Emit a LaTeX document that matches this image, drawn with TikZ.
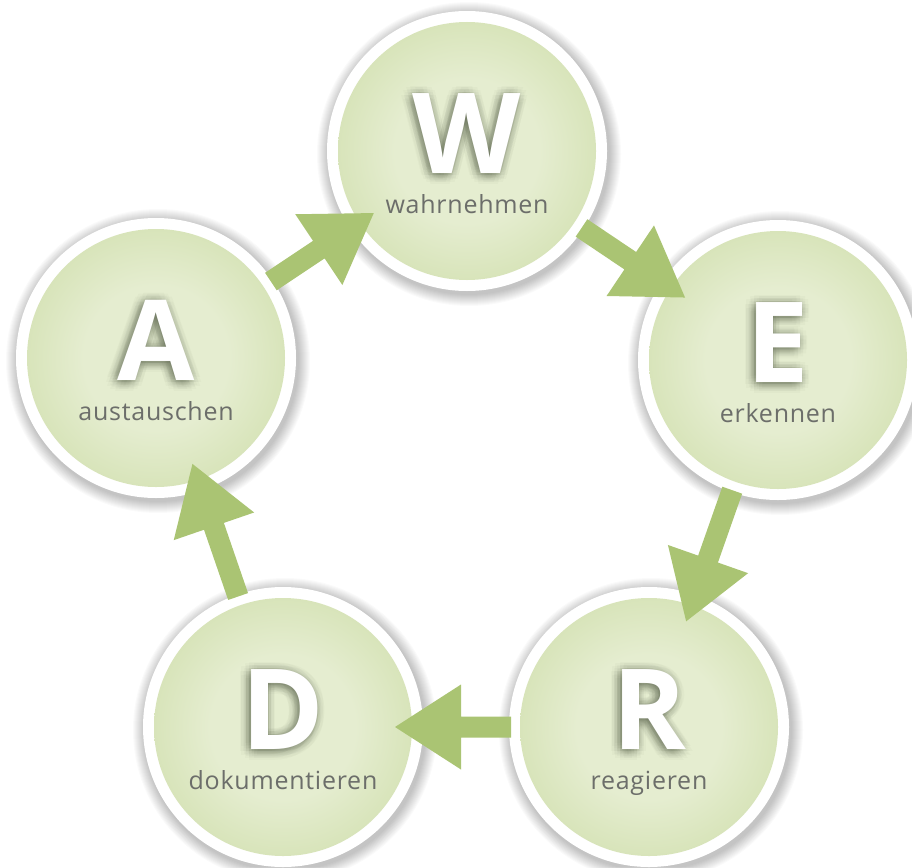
\documentclass[tikz,border=0pt]{standalone}
\usepackage{fontspec}
\setmainfont{Open Sans}
\newfontfamily\labelfont[LetterSpace=3]{Open Sans}
\usetikzlibrary{calc}
\definecolor{arrowgreen}{RGB}{170,196,115}
\definecolor{ballcenter}{RGB}{229,237,208}
\definecolor{ballmid}{RGB}{204,220,166}
\definecolor{balledge}{RGB}{176,200,126}
\definecolor{labelgray}{RGB}{108,110,106}
\definecolor{glowcol}{RGB}{40,50,30}
\pgfdeclareradialshading{greenball}{\pgfpoint{0bp}{0bp}}{color(0bp)=(ballcenter); color(14bp)=(ballcenter); color(35bp)=(ballmid); color(50bp)=(balledge); color(100bp)=(balledge)}
\tikzset{
  ballshade/.style={circle, minimum size=258pt, inner sep=0pt, shading=greenball},
  ring/.style={circle, fill=white, minimum size=280pt, inner sep=0pt},
  bigletter/.style={font=\fontsize{112}{112}\selectfont\bfseries, text=white, anchor=base, inner sep=0pt},
  glowletter/.style={bigletter, text=glowcol, text opacity=0.022},
  lbl/.style={font=\labelfont\fontsize{25}{25}\selectfont, text=labelgray, anchor=base, inner sep=0pt},
  flowfill/.style={fill=arrowgreen},
}
\newcommand\ball[5]{%
  \foreach \i in {1,...,12} {\fill[black,opacity=0.018] ({#2+2},{#3+3}) circle[radius={(140+\i)*1pt}];}
  \node[ring] (#1ring) at (#2,#3) {};
  \node[ballshade] (#1) at (#2,#3) {};
  \node[glowletter] at ({#2-2},{#3+24}) {#4};
  \foreach \r in {3,6,9} {\foreach \a in {0,30,...,330} {
    \node[glowletter] at ({#2-2+\r*cos(\a)},{#3+24+\r*sin(\a)}) {#4};}}
  \node[bigletter] (#1letter) at (#2,{#3+22}) {#4};
  \node[lbl] (#1label) at (#2,{#3+62}) {#5};
}
\newcommand\flow[2]{%
  \coordinate (t) at ($(#1)!138pt!(#2)$);
  \coordinate (p) at ($(#2)!112pt!(#1)$);
  \coordinate (b) at ($(p)!66pt!(#1)$);
  \fill[flowfill] ($(t)!10.5pt!90:(p)$) -- ($(b)!10.5pt!90:(p)$) -- ($(b)!42.5pt!90:(p)$) -- (p)
     -- ($(b)!42.5pt!-90:(p)$) -- ($(b)!10.5pt!-90:(p)$) -- ($(t)!10.5pt!-90:(p)$) -- cycle;
}
\begin{document}
\begin{tikzpicture}[x=1pt,y=-1pt]
\useasboundingbox (0,0) rectangle (912,867);
\fill[white] (0,0) rectangle (912,867);
\ball{W}{467}{151}{W}{wahrnehmen}
\ball{E}{778}{360}{E}{erkennen}
\ball{R}{649}{727}{R}{reagieren}
\ball{D}{283}{727}{D}{dokumentieren}
\ball{A}{156}{358}{A}{austauschen}
\flow{A}{W}
\flow{W}{E}
\flow{E}{R}
\flow{R}{D}
\flow{D}{A}
\end{tikzpicture}
\end{document}
